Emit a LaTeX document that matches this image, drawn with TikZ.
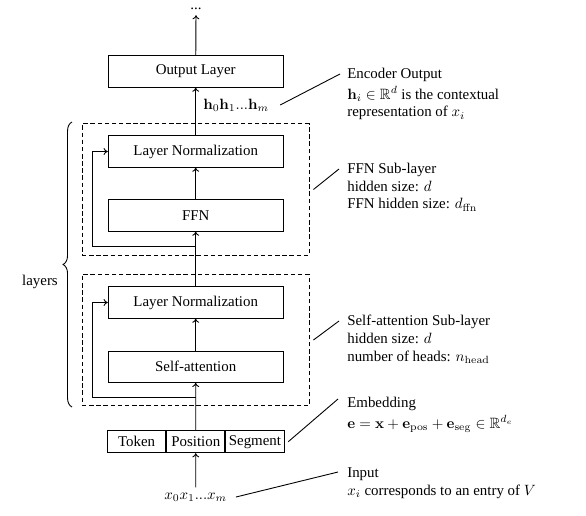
\documentclass[tikz,border=0pt]{standalone}
\usepackage{amsmath,amsfonts,amssymb}
\usepackage[no-math]{fontspec}
\setmainfont{Liberation Serif}
\usetikzlibrary{decorations.pathreplacing,arrows.meta}

\tikzset{
  layerbox/.style={draw,semithick,minimum width=117.4pt,minimum height=21pt},
  embbox/.style={draw,semithick,minimum width=39.1pt,minimum height=14.8pt,inner sep=1pt},
  blockbox/.style={draw,semithick,dash pattern=on 3pt off 1.8pt,minimum width=152.3pt,minimum height=88pt},
  note/.style={align=left,anchor=north west,inner sep=0pt},
}

\begin{document}
\begin{tikzpicture}[x=0.671pt,y=-0.671pt,>={To[length=2.8pt,width=4.6pt]}]
			\useasboundingbox (0,0) rectangle (586,515);
			% the two sub-layers
			\node[blockbox] (ffnblock) at (195.5,189.5) {};
			\node[blockbox] (sablock) at (195.5,340) {};
			\node[layerbox] (out) at (195.7,71.5) {Output Layer};
			\node[layerbox] (ln1) at (195.7,151.5) {Layer Normalization};
			\node[layerbox] (ffn) at (195.7,215.5) {FFN};
			\node[layerbox] (ln2) at (195.7,302.5) {Layer Normalization};
			\node[layerbox] (sa) at (195.7,366.7) {Self-attention};
			% embedding
			\node[embbox] (pos) at (195.8,441.7) {Position};
			\node[embbox,anchor=east] (tok) at (pos.west) {Token};
			\node[embbox,anchor=west] (seg) at (pos.east) {Segment};
			\node (xin) at (195.7,497) {$x_0x_1...x_m$};
			\node (dots) at (196,9) {...};
			\node[anchor=west] (hvec) at (198,105) {$\mathbf{h}_0\mathbf{h}_1...\mathbf{h}_m$};
			% main flow
			\draw[semithick,->] (xin) -- (pos);
			\draw[semithick,->] (pos) -- (sa);
			\draw[semithick,->] (sa) -- (ln2);
			\draw[semithick,->] (ln2) -- (ffn);
			\draw[semithick,->] (ffn) -- (ln1);
			\draw[semithick,->] (ln1) -- (out);
			\draw[semithick,->] (out) -- (dots);
			% residual connections
			\coordinate (res1) at ([yshift=-10pt]ffn.south);
			\coordinate (res2) at ([yshift=-10pt]sa.south);
			\draw[semithick,->] (res1) -- ++(-103,0) |- (ln1.west);
			\draw[semithick,->] (res2) -- ++(-103,0) |- (ln2.west);
			% layers brace
			\draw[semithick,decorate,decoration={brace,amplitude=6pt}] (72,407) -- (72,122);
			\node (layers) at (40,282) {layers};
			% notes
			\node[note] (encnote) at (347,67.5) {Encoder Output\\[2pt] $\mathbf{h}_i\in\mathbb{R}^d$ is the contextual\\ representation of $x_i$};
			\node[note] (ffnnote) at (347,162.5) {FFN Sub-layer\\ hidden size: $d$\\ FFN hidden size: $d_{\mathrm{ffn}}$};
			\node[note] (sanote) at (347,315) {Self-attention Sub-layer\\ hidden size: $d$\\ number of heads: $n_{\mathrm{head}}$};
			\node[note] (embnote) at (347,396.5) {Embedding\\[2pt] $\mathbf{e}=\mathbf{x}+\mathbf{e}_{\mathrm{pos}}+\mathbf{e}_{\mathrm{seg}}\in\mathbb{R}^{d_e}$};
			\node[note] (innote) at (347,467.5) {Input\\ $x_i$ corresponds to an entry of $V$};
			\coordinate (encend) at (340,74);
			\coordinate (ffnend) at (339,169);
			\coordinate (saend) at (339,321);
			\coordinate (embend) at (338,399);
			\coordinate (inend) at (338,472);
			\draw[semithick] ([xshift=4pt]hvec.east) -- (encend);
			\draw[semithick] ([xshift=2.7pt]ffnblock.east) -- (ffnend);
			\draw[semithick] ([xshift=2.7pt]sablock.east) -- (saend);
			\draw[semithick] ([xshift=2.5pt]seg.east) -- (embend);
			\draw[semithick] ([xshift=2.5pt]xin.east) -- (inend);
		\end{tikzpicture}
\end{document}
